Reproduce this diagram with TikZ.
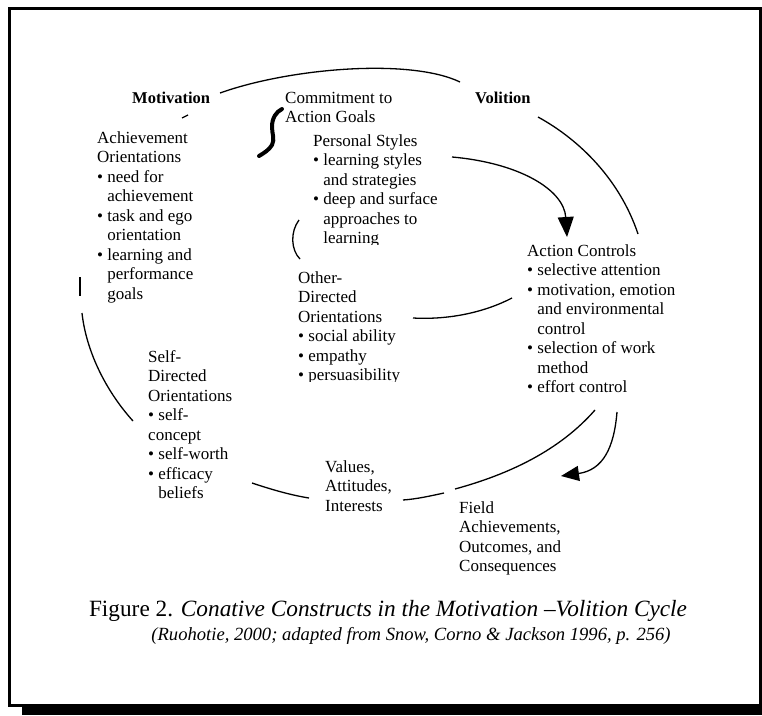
\documentclass[tikz,border=0pt]{standalone}
\usepackage{fontspec}
\setmainfont{Liberation Serif}
\usetikzlibrary{arrows.meta}

\newcommand{\ind}{\phantom{•\ }}

\begin{document}
\begin{tikzpicture}[x=1pt,y=-1pt,
  txt/.style={anchor=north west, inner sep=0pt, align=left,
              font=\fontsize{17}{19.5}\selectfont},
  headword/.style={anchor=north west, inner sep=0pt,
              font=\fontsize{16.5}{19.5}\selectfont\bfseries},
  cyc/.style={line width=1.3pt},
  bigtip/.style={-{Triangle[length=20pt,width=16pt]}},
  squig/.style={line width=4pt, line cap=round, line join=round}
]
\useasboundingbox (0,0) rectangle (762,715);

% frame with drop shadow
\fill[black] (22,18) rectangle (762,715);
\draw[line width=3pt, fill=white] (9.5,8.5) rectangle (760.5,705.5);

% headings
\node[headword] (motiv) at (132,92) {Motivation};
\node[headword] (volit) at (475,92) {Volition};

% text blocks
\node[txt] (commit) at (285,92) {Commitment to\\Action Goals};

\node[txt] (achieve) at (97,131) {Achievement\\Orientations\\• need for\\\ind achievement\\• task and ego\\\ind orientation\\• learning and\\\ind performance\\\ind goals};

\begin{scope}
  \clip (0,0) rectangle (762,244.5);
  \node[txt] (personal) at (313,134) {Personal Styles\\• learning styles\\\ind and strategies\\• deep and surface\\\ind approaches to\\\ind learning};
\end{scope}

\node[txt] (actionc) at (527,244) {Action Controls\\• selective attention\\• motivation, emotion\\\ind and environmental\\\ind control\\• selection of work\\\ind method\\• effort control};

\begin{scope}
  \clip (0,0) rectangle (762,381.5);
  \node[txt] (otherdir) at (298,271) {Other-\\Directed\\Orientations\\• social ability\\• empathy\\• persuasibility};
\end{scope}

\node[txt] (selfdir) at (148,350) {Self-\\Directed\\Orientations\\• self-\\concept\\• self-worth\\• efficacy\\\ind beliefs};

\node[txt] (values) at (325,460) {Values,\\Attitudes,\\Interests};

\node[txt] (field) at (459,501) {Field\\Achievements,\\Outcomes, and\\Consequences};

% caption
\node[inner sep=0pt, font=\fontsize{23.3}{27}\selectfont] (cap1) at (388,611)
  {Figure 2. \textit{Conative Constructs in the Motivation –Volition Cycle}};
\node[inner sep=0pt, font=\fontsize{18.6}{21}\selectfont\itshape] (cap2) at (411,636)
  {(Ruohotie, 2000; adapted from Snow, Corno \& Jackson 1996, p. 256)};

% end points of the cycle fragments
\coordinate (topA) at (220,93);
\coordinate (topB) at (460,82);
\coordinate (rtA) at (538,117);
\coordinate (rtB) at (638,234);
\coordinate (psA) at (452,157);
\coordinate (psB) at (567,237);
\coordinate (parA) at (299,220);
\coordinate (parB) at (300,259);
\coordinate (odA) at (512,298);
\coordinate (odB) at (413,318);
\coordinate (tkA) at (80,277);
\coordinate (tkB) at (80,296);
\coordinate (lfA) at (82,313);
\coordinate (lfB) at (133,421);
\coordinate (bmA) at (252,483);
\coordinate (bmB) at (309,498);
\coordinate (bnA) at (403,500);
\coordinate (bnB) at (444,493);
\coordinate (brA) at (455,489);
\coordinate (brB) at (595,410);
\coordinate (fdA) at (617,412);
\coordinate (fdB) at (561,476);
\coordinate (mtA) at (182,118);
\coordinate (mtB) at (188,115);

% cycle fragments
\draw[cyc] (topA) .. controls (290,68) and (410,58) .. (topB);
\draw[cyc] (rtA) .. controls (580,140) and (620,180) .. (rtB);
\draw[cyc] (parA) .. controls (290,232) and (291,250) .. (parB);
\draw[cyc] (odB) .. controls (450,320) and (485,312) .. (odA);
\draw[cyc] (tkA) -- (tkB);
\draw[cyc] (lfA) .. controls (86,350) and (105,390) .. (lfB);
\draw[cyc] (bmA) .. controls (270,489) and (290,495) .. (bmB);
\draw[cyc] (bnA) .. controls (417,499) and (430,496) .. (bnB);
\draw[cyc] (brA) .. controls (510,474) and (560,450) .. (brB);
\draw[cyc] (mtA) -- (mtB);

% arrows
\draw[cyc, bigtip] (psA) .. controls (520,163) and (564,190) .. (psB);
\draw[cyc, -{Triangle[length=18pt,width=15pt]}] (fdA) .. controls (614,448) and (603,470) .. (fdB);

% commitment squiggle
\draw[squig] (282,109) .. controls (276,112) and (272,118) .. (272,127)
  .. controls (272,134) and (275,139) .. (272,145)
  .. controls (269,150) and (264,153) .. (259,156);
\end{tikzpicture}
\end{document}
